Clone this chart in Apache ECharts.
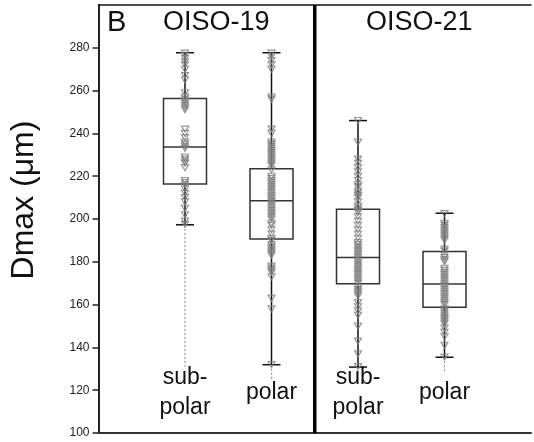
<!DOCTYPE html>
<html>
<head>
<meta charset="utf-8">
<script src="https://cdn.jsdelivr.net/npm/echarts@6/dist/echarts.min.js"></script>
<style>
  html, body { margin: 0; padding: 0; background: #fff; }
  #chart { width: 534px; height: 442px; }
</style>
</head>
<body>
<div id="chart"></div>
<script>
// x categories (first and last are empty spacers)
const categories = ["", "sub-\npolar", "polar", "sub-\npolar", "polar", ""];
const panelTitles = ["OISO-19", "OISO-21"];
const yTicks = [100, 120, 140, 160, 180, 200, 220, 240, 260, 280];

// box statistics (sub-polar 19, polar 19, sub-polar 21, polar 21)
const boxMin = [197.3, 131.9, 130.8, 135.4];
const boxQ1 = [216.3, 190.6, 169.7, 158.8];
const boxMedian = [233.7, 208.5, 182.0, 169.6];
const boxQ3 = [256.3, 223.5, 204.6, 184.8];
const boxMax = [277.7, 277.7, 246.0, 202.7];
const dottedEnd = [131, 125, null, 128];

// individual measurements
const subpolar19 = [277.5, 276.5, 275, 273.5, 272, 270, 267, 265, 259, 257, 256, 255, 254, 253, 252, 251,
  242, 240, 238, 236, 235, 234, 233, 229, 228, 227, 226, 224, 218, 217, 216, 214, 212, 210, 208, 205, 202, 199, 197.5];
const polar19 = [277.5, 276, 274, 272, 270, 257, 256, 242, 240, 236, 235, 234, 233, 232, 231, 230, 229, 228, 227,
  226, 225, 223, 220, 219, 218, 217, 216, 215, 214, 213, 212, 211, 210, 209, 208, 207, 206, 205, 204, 203, 202,
  201, 200, 198, 197, 195, 193, 191, 190, 188, 187, 186, 185, 184, 183, 178, 177, 176, 175, 173, 163, 158, 132];
const subpolar21 = [246, 236, 228, 226, 224, 222, 220, 218, 216, 215, 213, 212, 211, 210, 208, 206, 205, 204, 203,
  201, 199, 197, 195, 193, 191, 189, 188, 187, 186, 185, 184, 183, 182, 181, 180, 179, 178, 177, 176, 175, 174,
  173, 172, 171, 170, 168, 167, 166, 165, 164, 161, 159, 157, 155, 150, 143, 137, 131];
const polar21 = [202.5, 198, 197, 196, 195, 194, 193, 192, 191, 190, 186, 185, 183, 182, 181, 180, 177, 176, 175,
  174, 173, 172, 171, 170, 169, 168, 167, 166, 165, 164, 163, 162, 161, 160, 158, 157, 156, 155, 154, 153, 152,
  151, 149, 147, 145, 141, 135.5];

const groups = [subpolar19, polar19, subpolar21, polar21];
const FONT = "Liberation Sans, Arial, sans-serif";

const chart = echarts.init(document.getElementById("chart"));

const boxData = boxMin.map((v, i) => [i + 1, v, boxQ1[i], boxMedian[i], boxQ3[i], boxMax[i], dottedEnd[i]]);
const pointData = [];
groups.forEach((g, i) => g.forEach((v) => pointData.push([i + 1, v])));

function renderBox(params, api) {
  const x = api.value(0);
  const p = (v) => api.coord([x, v]);
  const lo = p(api.value(1)), q1 = p(api.value(2)), md = p(api.value(3));
  const q3 = p(api.value(4)), hi = p(api.value(5));
  const bw = 43, cw = 18; // box width, whisker cap width
  const cx = lo[0];
  const lineStyle = { stroke: "#111", lineWidth: 1.5, fill: null };
  const boxStyle = { stroke: "#333", lineWidth: 1.5, fill: null };
  const children = [
    { type: "rect", shape: { x: cx - bw / 2, y: q3[1], width: bw, height: q1[1] - q3[1] }, style: boxStyle },
    { type: "line", shape: { x1: cx - bw / 2, y1: md[1], x2: cx + bw / 2, y2: md[1] }, style: boxStyle },
    { type: "line", shape: { x1: cx, y1: hi[1], x2: cx, y2: q3[1] }, style: lineStyle },
    { type: "line", shape: { x1: cx, y1: q1[1], x2: cx, y2: lo[1] }, style: lineStyle },
    { type: "line", shape: { x1: cx - cw / 2, y1: hi[1], x2: cx + cw / 2, y2: hi[1] }, style: lineStyle },
    { type: "line", shape: { x1: cx - cw / 2, y1: lo[1], x2: cx + cw / 2, y2: lo[1] }, style: lineStyle },
  ];
  const dEnd = api.value(6);
  if (dEnd != null && !isNaN(dEnd)) {
    const d = p(dEnd);
    children.push({
      type: "line",
      shape: { x1: cx, y1: lo[1], x2: cx, y2: d[1] },
      style: { stroke: "#999", lineWidth: 1.2, lineDash: [2, 2], fill: null },
    });
  }
  return { type: "group", children: children };
}

const option = {
  animation: false,
  grid: { left: 98.5, top: 5, width: 440, bottom: 9 },
  xAxis: [
    {
      type: "category",
      data: categories,
      boundaryGap: false,
      axisLine: { lineStyle: { color: "#333", width: 2 } },
      axisTick: { show: false },
      axisLabel: {
        inside: true,
        interval: 0,
        margin: 40,
        verticalAlign: "middle",
        color: "#111",
        fontFamily: FONT,
        fontSize: 23,
        lineHeight: 30,
      },
      splitLine: { show: false },
    },
    {
      type: "value",
      position: "top",
      min: 0,
      max: 5,
      axisLine: { show: true, onZero: false, lineStyle: { color: "#111", width: 1.5 } },
      axisTick: { show: false },
      axisLabel: { show: false },
      splitLine: { show: false },
    },
  ],
  yAxis: {
    type: "value",
    min: 100,
    max: 300,
    interval: 20,
    name: "Dmax (μm)",
    nameLocation: "middle",
    nameGap: 58,
    nameTextStyle: { fontFamily: FONT, fontSize: 32, color: "#111", padding: [0, 0, 0, 38] },
    axisLine: { show: true, lineStyle: { color: "#222", width: 2 } },
    axisTick: { show: true, length: 6, customValues: yTicks, lineStyle: { color: "#222", width: 1.5 } },
    axisLabel: { customValues: yTicks, margin: 9, color: "#222", fontFamily: FONT, fontSize: 12 },
    splitLine: { show: false },
  },
  graphic: [
    { type: "text", left: 107, top: 8, style: { text: "B", font: "29px " + FONT, fill: "#111" } },
    { type: "text", left: 163, top: 9, style: { text: panelTitles[0], font: "27px " + FONT, fill: "#111" } },
    { type: "text", left: 366, top: 9, style: { text: panelTitles[1], font: "27px " + FONT, fill: "#111" } },
  ],
  series: [
    {
      type: "line",
      xAxisIndex: 1,
      data: [[2.5, 100], [2.5, 300]],
      symbol: "none",
      lineStyle: { color: "#000", width: 3.5 },
      silent: true,
    },
    {
      type: "custom",
      xAxisIndex: 0,
      renderItem: renderBox,
      encode: { x: 0, y: [1, 2, 3, 4, 5] },
      data: boxData,
      z: 2,
    },
    {
      type: "scatter",
      xAxisIndex: 0,
      data: pointData,
      symbol: "triangle",
      symbolRotate: 180,
      symbolSize: [7, 6],
      itemStyle: { color: "rgba(0,0,0,0)", borderColor: "#7e7e7e", borderWidth: 1.2 },
      z: 3,
    },
  ],
};

chart.setOption(option);
</script>
</body>
</html>
